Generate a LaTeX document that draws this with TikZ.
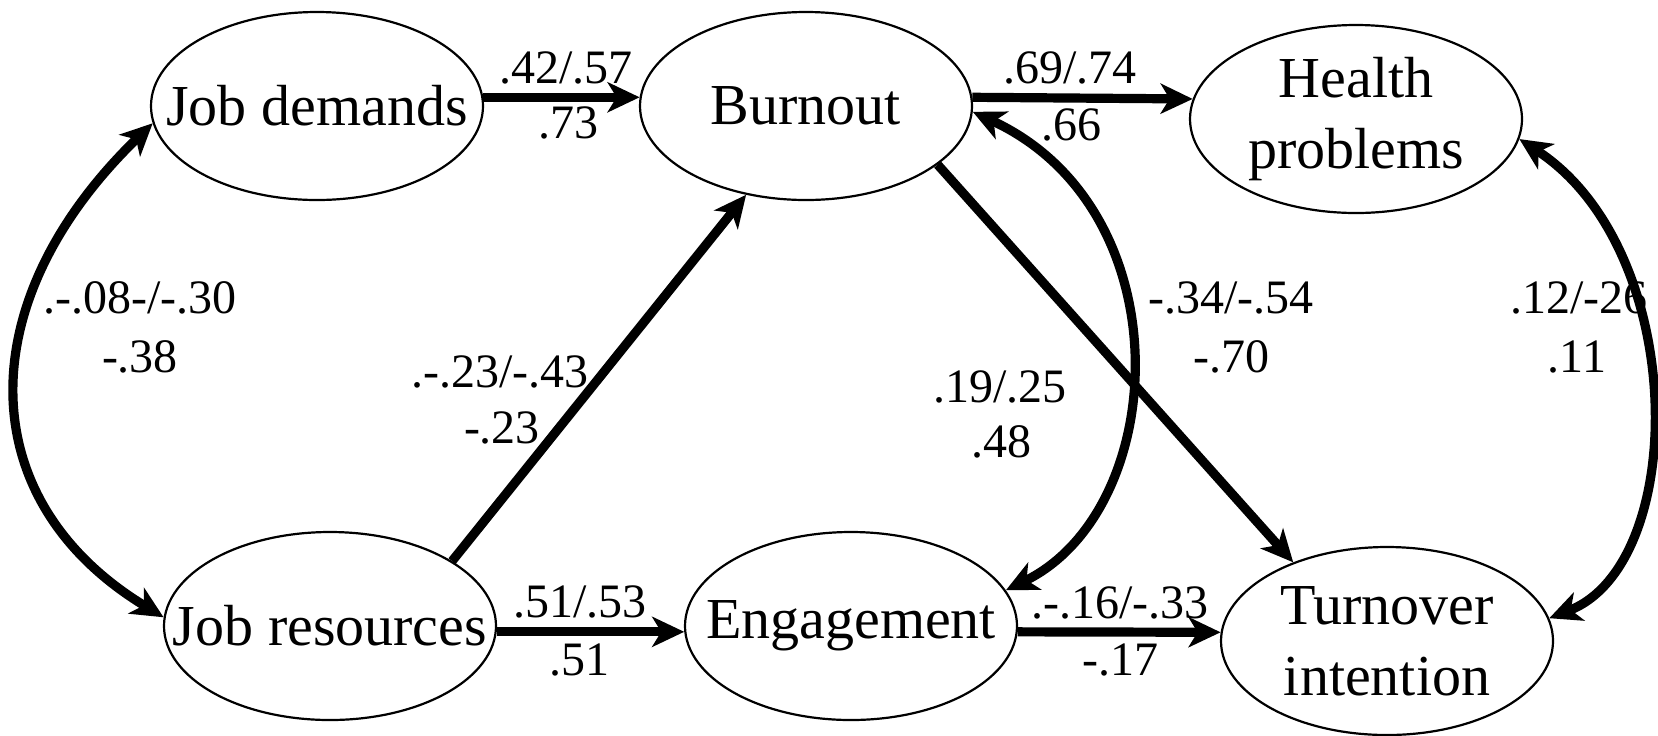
\documentclass[tikz,border=0pt]{standalone}
\usepackage{fontspec}
\setmainfont{Liberation Serif}
\usetikzlibrary{arrows.meta,shapes.geometric}
\tikzset{
  var/.style={ellipse, draw, line width=1.1pt, minimum width=166pt, minimum height=94pt, inner sep=0pt},
  vtext/.style={align=center, inner sep=0pt, font=\fontsize{29}{35.5}\selectfont},
  coef/.style={anchor=base, inner sep=0pt, font=\fontsize{24}{28}\selectfont},
  tipx/.tip={Stealth[length=16pt,width=15pt,inset=4.5pt]},
  patharrow/.style={line width=4.6pt, -tipx},
  cov/.style={line width=4.6pt, tipx-tipx},
}
\begin{document}
\begin{tikzpicture}[x=0.5pt,y=-0.5pt]
\useasboundingbox (0,0) rectangle (1658,735);
% latent variables
\node[var, label={[vtext]center:Job demands}] (jd) at (317,106) {};
\node[var, label={[vtext]center:Burnout}] (bo) at (806,106) {};
\node[var, label={[vtext]center:{Health\\problems}}] (hp) at (1356,119) {};
\node[var, label={[vtext]center:Job resources}] (jr) at (330,626) {};
\node[var, label={[vtext]center:Engagement}] (en) at (851,626) {};
\node[var, label={[vtext]center:{Turnover\\intention}}] (ti) at (1387,641) {};
% paths
\draw[patharrow] (jd.3) -- (bo.177);
\draw[patharrow] (bo.3) -- (hp.173);
\draw[patharrow] (jr.28) -- (bo.236);
\draw[patharrow] (jr.-2) -- (en.182);
\draw[patharrow] (en.-2) -- (ti.177);
\draw[patharrow] (bo.-24) -- (ti.140);
% covariances
\draw[cov] (jd.186) .. controls (-30,300) and (-30,500) .. (jr.177);
\draw[cov] (bo.-2) .. controls (1185,210) and (1170,510) .. (en.13);
\draw[cov] (hp.-7) .. controls (1689,250) and (1689,564) .. (ti.8);
% coefficients
\node[coef] (k1) at (566,83) {.42/.57};
\node[coef] (k2) at (568,138) {.73};
\node[coef] (k3) at (1070,83) {.69/.74};
\node[coef] (k4) at (1071,140) {.66};
\node[coef] (k5) at (140,313) {.-.08-/-.30};
\node[coef] (k6) at (140,372) {-.38};
\node[coef] (k7) at (500,387) {.-.23/-.43};
\node[coef] (k8) at (502,443) {-.23};
\node[coef] (k9) at (1000,402) {.19/.25};
\node[coef] (k10) at (1001,457) {.48};
\node[coef] (k11) at (1231,313) {-.34/-.54};
\node[coef] (k12) at (1231,372) {-.70};
\node[coef] (k13) at (1579,313) {.12/-26};
\node[coef] (k14) at (1577,372) {.11};
\node[coef] (k15) at (580,617) {.51/.53};
\node[coef] (k16) at (579,675) {.51};
\node[coef] (k17) at (1120,618) {.-.16/-.33};
\node[coef] (k18) at (1120,675) {-.17};
\end{tikzpicture}
\end{document}
